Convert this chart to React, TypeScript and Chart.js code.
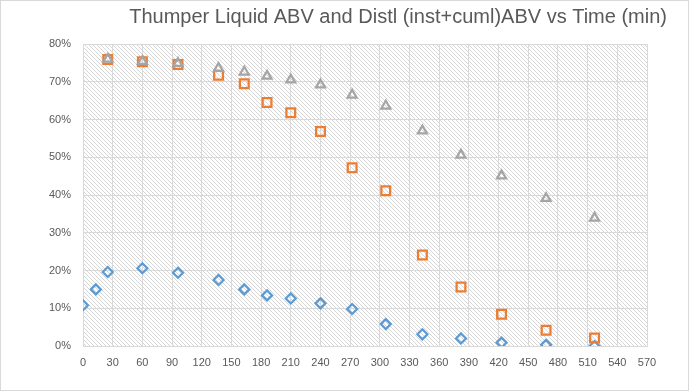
import React, { useEffect, useRef } from "react";
import { Chart, registerables } from "chart.js";

Chart.register(...registerables);

const TITLE = "Thumper Liquid ABV and Distl (inst+cuml)ABV vs Time (min)";

const thumperTimes = [0, 13, 25, 60, 96, 137, 163, 186, 210, 240, 272, 306, 343, 382, 423, 468, 517];
const thumperABV = [10.8, 15.0, 19.6, 20.6, 19.4, 17.5, 15.0, 13.4, 12.6, 11.3, 9.8, 5.8, 3.1, 2.0, 0.9, 0.3, 0.0];

const distlTimes = [25, 60, 96, 137, 163, 186, 210, 240, 272, 306, 343, 382, 423, 468, 517];
const instABV = [75.9, 75.3, 74.6, 71.7, 69.5, 64.5, 61.8, 56.8, 47.2, 41.1, 24.1, 15.6, 8.4, 4.2, 2.1];
const cumlABV = [76.0, 75.4, 74.9, 73.6, 72.6, 71.5, 70.5, 69.2, 66.5, 63.6, 57.0, 50.6, 45.1, 39.1, 33.9];

const xTicks = { min: 0, max: 570, step: 30 };
const yTicks = { min: 0, max: 0.8, step: 0.1 };

function toPoints(xs: number[], ys: number[]) {
  return xs.map((x, i) => ({ x, y: ys[i] / 100 }));
}

const hatchPlugin = {
  id: "hatch",
  beforeDraw(chart: any) {
    const { ctx, chartArea } = chart;
    const pc = document.createElement("canvas");
    pc.width = 4;
    pc.height = 4;
    const p = pc.getContext("2d")!;
    p.fillStyle = "#ffffff";
    p.fillRect(0, 0, 4, 4);
    p.fillStyle = "#d6d6d6";
    for (let i = 0; i < 4; i++) p.fillRect(i, i, 1, 1);
    const pattern = ctx.createPattern(pc, "repeat");
    ctx.save();
    ctx.fillStyle = "#ffffff";
    ctx.fillRect(0, 0, chart.width, chart.height);
    ctx.fillStyle = pattern;
    ctx.fillRect(chartArea.left, chartArea.top, chartArea.right - chartArea.left, chartArea.bottom - chartArea.top);
    ctx.restore();
  },
  afterDraw(chart: any) {
    const { ctx } = chart;
    ctx.save();
    ctx.strokeStyle = "#d9d9d9";
    ctx.lineWidth = 1;
    ctx.strokeRect(0.5, 0.5, 688, 390);
    ctx.fillStyle = "#595959";
    ctx.font = "20px 'Liberation Sans', Arial, sans-serif";
    ctx.textAlign = "right";
    ctx.textBaseline = "alphabetic";
    ctx.fillText(TITLE, 667, 23);
    ctx.restore();
  },
};

export default function App() {
  const ref = useRef<HTMLCanvasElement | null>(null);

  useEffect(() => {
    if (!ref.current) return;
    const tickFont = { family: "'Liberation Sans', Arial, sans-serif", size: 11 };
    const chart = new Chart(ref.current, {
      type: "scatter",
      data: {
        datasets: [
          {
            label: "Thumper Liquid ABV",
            data: toPoints(thumperTimes, thumperABV),
            pointStyle: "rectRot",
            pointRadius: 5,
            pointBorderWidth: 2.25,
            borderColor: "#5B9BD5",
            backgroundColor: "rgba(0,0,0,0)",
            order: 2,
          },
          {
            label: "Distl inst ABV",
            data: toPoints(distlTimes, instABV),
            pointStyle: "rect",
            pointRadius: 6.2,
            pointBorderWidth: 2.25,
            borderColor: "#ED7D31",
            backgroundColor: "rgba(0,0,0,0)",
            order: 1,
          },
          {
            label: "Distl cuml ABV",
            data: toPoints(distlTimes, cumlABV),
            pointStyle: "triangle",
            pointRadius: 5.2,
            pointBorderWidth: 2.25,
            borderColor: "#A5A5A5",
            backgroundColor: "rgba(0,0,0,0)",
            order: 0,
          },
        ],
      },
      options: {
        animation: false,
        responsive: false,
        devicePixelRatio: 1,
        layout: { padding: { left: 0, right: 43, top: 44, bottom: 0 } },
        plugins: {
          legend: { display: false },
          tooltip: { enabled: false },
          title: { display: false },
        },
        scales: {
          x: {
            type: "linear",
            min: xTicks.min,
            max: xTicks.max,
            ticks: { stepSize: xTicks.step, color: "#595959", font: tickFont, maxRotation: 0, padding: 10 },
            grid: { color: "#d9d9d9", drawTicks: false },
            border: { color: "#d9d9d9" },
            afterFit: (s: any) => { s.height = 46; },
          },
          y: {
            type: "linear",
            min: yTicks.min,
            max: yTicks.max,
            ticks: {
              stepSize: yTicks.step,
              color: "#595959",
              font: tickFont,
              padding: 12,
              callback: (v: any) => Math.round(Number(v) * 100) + "%",
            },
            grid: { color: "#d9d9d9", drawTicks: false },
            border: { color: "#d9d9d9" },
            afterFit: (s: any) => { s.width = 83; },
          },
        },
      },
      plugins: [hatchPlugin],
    });
    return () => chart.destroy();
  }, []);

  return (
    <div style={{ position: "fixed", left: 0, top: 0, width: 690, height: 392, background: "#fff" }}>
      <canvas ref={ref} width={690} height={392} style={{ width: 690, height: 392 }} />
    </div>
  );
}
